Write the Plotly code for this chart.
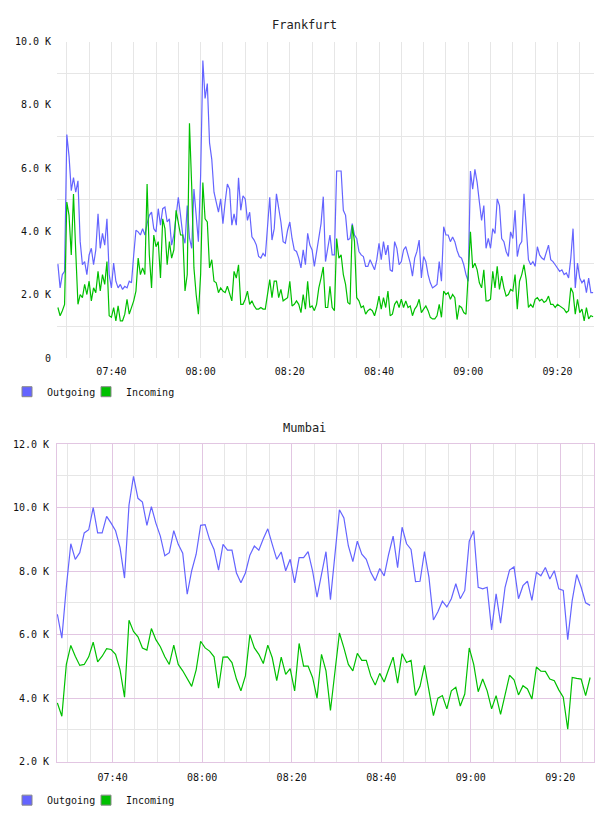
import plotly.graph_objects as go
import pandas as pd

# ---------------- data (values in thousands) ----------------
fra_out_k = [
    2.97, 2.22, 2.64, 2.74, 7.06, 6.38, 5.29, 5.7, 5.24, 5.6,
    3.68, 2.95, 3.05, 2.64, 3.26, 3.47, 2.95, 3.42, 4.56, 3.47,
    3.94, 3.57, 4.4, 2.64, 2.22, 3.0, 2.43, 2.22, 2.33, 2.17,
    2.27, 2.22, 2.43, 2.38, 3.26, 4.04, 3.99, 3.89, 4.09, 3.89,
    4.25, 4.51, 4.61, 4.09, 3.99, 4.72, 4.2, 4.72, 4.77, 4.3,
    4.4, 3.57, 3.89, 4.4, 5.08, 4.51, 3.89, 3.63, 4.82, 3.8,
    3.47, 5.34, 4.51, 3.68, 5.76, 9.4, 8.2, 8.67, 6.8, 6.28,
    5.24, 4.93, 4.61, 5.03, 4.25, 4.93, 5.5, 5.34, 4.2, 4.56,
    4.2, 5.7, 4.67, 5.13, 5.03, 4.35, 4.61, 3.83, 3.73, 3.57,
    3.21, 3.16, 3.31, 3.21, 4.09, 5.08, 3.73, 4.09, 5.19, 4.77,
    4.3, 3.68, 3.63, 4.04, 4.3, 3.78, 3.42, 3.37, 3.16, 2.85,
    3.42, 2.95, 3.94, 3.57, 3.42, 2.9, 3.37, 3.89, 4.25, 5.1,
    3.05, 3.47, 3.89, 3.26, 3.26, 5.91, 5.91, 5.91, 4.67, 4.51,
    3.73, 3.78, 4.25, 3.89, 3.78, 3.37, 3.26, 3.21, 2.9, 2.9,
    3.11, 2.95, 2.79, 3.11, 3.63, 3.11, 3.68, 3.26, 3.57, 2.79,
    2.74, 3.68, 3.47, 2.95, 3.05, 3.42, 3.52, 3.26, 3.0, 2.59,
    3.16, 3.37, 3.73, 2.53, 3.21, 3.05, 2.64, 2.38, 2.22, 2.27,
    2.33, 3.05, 2.43, 4.15, 3.89, 3.89, 3.68, 3.83, 3.68, 3.4,
    3.21, 3.16, 2.95, 2.64, 2.43, 5.91, 5.34, 5.96, 5.55, 4.93,
    4.35, 4.82, 3.47, 3.78, 3.47, 4.09, 3.94, 5.03, 4.82, 3.78,
    3.68, 3.37, 3.21, 3.99, 3.78, 4.67, 3.21, 3.57, 3.68, 5.19,
    4.2, 3.11, 2.95, 3.05, 2.9, 3.52, 3.26, 3.16, 3.11, 3.37,
    3.57, 3.11, 3.05, 2.95, 2.85, 2.74, 2.79, 2.64, 2.69, 2.53,
    3.16, 4.09, 2.22, 3.0, 2.53, 2.38, 2.48, 2.07, 2.53, 2.07,
    2.07,
]
fra_in_k = [
    1.6, 1.34, 1.5, 1.7, 4.93, 4.51, 3.26, 5.18, 3.37, 1.7,
    2.01, 1.91, 2.33, 2.01, 2.43, 1.81, 2.22, 2.07, 2.74, 2.12,
    2.64, 2.33, 3.05, 1.34, 1.29, 1.6, 1.18, 1.65, 1.18, 1.18,
    1.39, 1.86, 1.39, 1.6, 1.81, 2.12, 3.16, 2.64, 2.85, 2.64,
    5.5, 3.26, 2.22, 3.89, 3.52, 3.68, 2.53, 4.4, 4.09, 2.95,
    3.68, 3.16, 3.42, 4.67, 4.25, 3.89, 3.89, 2.12, 2.64, 7.42,
    5.44, 2.85, 2.01, 1.39, 2.64, 5.55, 4.4, 4.3, 2.85, 3.11,
    2.43, 2.38, 2.07, 2.22, 2.12, 2.07, 2.27, 2.01, 1.81, 2.74,
    2.53, 2.95, 1.7, 1.7, 1.86, 2.12, 1.7, 1.81, 1.65, 1.55,
    1.55, 1.6, 1.55, 1.55, 2.01, 2.48, 1.91, 2.43, 2.43, 1.91,
    2.17, 1.81, 1.86, 1.91, 2.43, 1.65, 1.7, 1.81, 1.7, 1.44,
    2.01, 1.55, 2.43, 1.6, 1.65, 1.5, 1.7, 2.22, 2.53, 2.88,
    1.6, 1.6, 2.27, 1.6, 1.5, 3.78, 3.16, 3.26, 2.64, 2.33,
    1.76, 1.7, 4.2, 3.68, 1.91, 1.81, 1.6, 1.65, 1.39, 1.5,
    1.55, 1.5, 1.34, 1.6, 1.96, 1.55, 1.91, 1.6, 2.12, 1.34,
    1.39, 1.7, 1.81, 1.6, 1.86, 1.6, 1.81, 1.6, 1.65, 1.34,
    1.55, 1.65, 1.86, 1.44, 1.55, 1.65, 1.5, 1.29, 1.24, 1.24,
    1.34, 1.7, 1.29, 2.12, 2.01, 2.07, 1.86, 2.01, 1.91, 1.22,
    1.65, 1.6, 1.44, 1.39, 2.64, 3.99, 2.85, 3.0, 2.79, 2.38,
    2.22, 2.79, 1.81, 1.81, 1.86, 2.74, 2.22, 2.9, 2.17, 2.59,
    2.22, 1.96, 2.01, 2.17, 2.12, 2.64, 1.55, 2.43, 2.64, 2.95,
    2.48, 1.6, 1.7, 1.6, 1.86, 1.91, 1.81, 1.86, 1.76, 1.81,
    1.96, 1.7, 1.7, 1.6, 1.7, 1.65, 1.6, 1.55, 1.44, 1.5,
    2.22, 2.07, 1.39, 1.86, 1.44, 1.55, 1.18, 1.6, 1.24, 1.34,
    1.31,
]
mum_out_k = [
    6.64, 5.89, 7.5, 8.86, 8.37, 8.58, 9.2, 9.3, 10.0, 9.2,
    9.2, 9.72, 9.51, 9.27, 8.74, 7.78, 10.08, 10.98, 10.29, 10.17,
    9.44, 10.03, 9.51, 9.1, 8.48, 8.58, 9.27, 8.84, 8.56, 7.27,
    8.01, 8.53, 9.44, 9.46, 8.99, 8.68, 8.03, 8.84, 8.66, 8.66,
    7.94, 7.63, 7.94, 8.5, 8.79, 8.66, 9.02, 9.33, 8.84, 8.37,
    8.6, 8.01, 8.37, 7.63, 8.42, 8.42, 8.61, 8.01, 7.18, 7.9,
    8.61, 7.1, 8.53, 9.93, 9.67, 8.79, 8.3, 8.94, 8.53, 8.37,
    7.96, 7.7, 8.08, 7.85, 8.53, 9.1, 8.11, 9.38, 8.86, 8.68,
    7.67, 7.68, 8.61, 7.8, 6.46, 6.72, 7.05, 6.87, 7.13, 7.6,
    7.13, 7.39, 8.94, 9.27, 7.49, 7.44, 7.49, 6.15, 7.28, 6.36,
    7.49, 8.03, 8.13, 7.13, 7.54, 7.68, 7.08, 7.96, 7.85, 8.11,
    7.75, 8.01, 7.44, 7.39, 5.84, 7.08, 7.89, 7.49, 7.0, 6.92,
]
mum_in_k = [
    3.85, 3.43, 5.06, 5.66, 5.32, 5.03, 5.06, 5.3, 5.76, 5.14,
    5.32, 5.56, 5.53, 5.38, 4.89, 4.03, 6.45, 6.1, 5.93, 5.58,
    5.51, 6.19, 5.84, 5.62, 5.3, 5.06, 5.67, 5.06, 4.86, 4.6,
    4.37, 4.89, 5.79, 5.58, 5.48, 5.3, 4.31, 5.29, 5.3, 5.12,
    4.6, 4.23, 4.7, 6.0, 5.58, 5.38, 5.09, 5.67, 5.27, 4.55,
    5.29, 4.75, 4.93, 4.23, 5.72, 5.01, 5.01, 4.65, 4.0, 5.38,
    4.86, 3.61, 4.86, 6.05, 5.58, 5.06, 4.86, 5.41, 5.19, 5.19,
    4.7, 4.41, 4.78, 4.51, 4.91, 5.29, 4.47, 5.4, 5.12, 5.19,
    4.08, 4.37, 5.03, 4.23, 3.45, 4.0, 4.08, 3.66, 4.23, 4.34,
    3.75, 4.13, 5.58, 5.06, 4.2, 4.6, 4.23, 3.66, 4.08, 3.49,
    4.13, 4.72, 4.58, 4.1, 4.39, 4.29, 3.97, 4.98, 4.85, 4.84,
    4.6, 4.55, 4.26, 4.03, 3.02, 4.65, 4.62, 4.6, 4.08, 4.65,
]

fra_ticks = [0, 2000, 4000, 6000, 8000, 10000]
fra_ticktext = ["0", "2.0 K", "4.0 K", "6.0 K", "8.0 K", "10.0 K"]
mum_ticks = [2000, 4000, 6000, 8000, 10000, 12000]
mum_ticktext = ["2.0 K", "4.0 K", "6.0 K", "8.0 K", "10.0 K", "12.0 K"]
series_names = ["Outgoing", "Incoming"]

fra_time = pd.date_range("2024-01-01 07:28:00", periods=len(fra_out_k), freq="30s")
mum_time = pd.date_range("2024-01-01 07:27:40", periods=len(mum_out_k), freq="60s")

# ---------------- styles ----------------
OUT_C = "#6464ff"
IN_C = "#00c000"
GRID = "#e6e6e6"
PINK = "#e2c6e2"
FONT = "DejaVu Sans Mono"
W, H = 608, 816


def py(px):
    return 1 - px / H


fig = go.Figure()
fig.add_trace(go.Scatter(x=fra_time, y=[v * 1000 for v in fra_out_k], mode="lines",
                         line=dict(color=OUT_C, width=1.2), xaxis="x", yaxis="y",
                         showlegend=False, name=series_names[0]))
fig.add_trace(go.Scatter(x=fra_time, y=[v * 1000 for v in fra_in_k], mode="lines",
                         line=dict(color=IN_C, width=1.2), xaxis="x", yaxis="y",
                         showlegend=False, name=series_names[1]))
fig.add_trace(go.Scatter(x=mum_time, y=[v * 1000 for v in mum_out_k], mode="lines",
                         line=dict(color=OUT_C, width=1.2), xaxis="x2", yaxis="y2",
                         showlegend=False, name=series_names[0]))
fig.add_trace(go.Scatter(x=mum_time, y=[v * 1000 for v in mum_in_k], mode="lines",
                         line=dict(color=IN_C, width=1.2), xaxis="x2", yaxis="y2",
                         showlegend=False, name=series_names[1]))

# legend entries (square swatches) + an invisible spacer so nothing gets clipped
for leg, xa, ya in (("legend", "x", "y"), ("legend2", "x2", "y2")):
    for name, col in zip(series_names, (OUT_C, IN_C)):
        fig.add_trace(go.Scatter(x=[None], y=[None], mode="markers", name=name,
                                 marker=dict(symbol="square", size=10, color=col,
                                             line=dict(color="#888", width=1)),
                                 xaxis=xa, yaxis=ya, legend=leg, showlegend=True))
    fig.add_trace(go.Scatter(x=[None], y=[None], mode="markers", name=" ",
                             marker=dict(symbol="square", size=10,
                                         color="rgba(0,0,0,0)",
                                         line=dict(color="rgba(0,0,0,0)", width=0)),
                             xaxis=xa, yaxis=ya, legend=leg, showlegend=True))

xdom = [57 / W, 594 / W]
tickfont = dict(family=FONT, size=10, color="#111")
legfont = dict(family=FONT, size=10, color="#111")

fig.update_layout(
    width=W, height=H, autosize=False,
    margin=dict(l=0, r=0, t=0, b=0),
    paper_bgcolor="white", plot_bgcolor="white",
    font=dict(family=FONT, size=10, color="#111"),
    xaxis=dict(domain=xdom, anchor="y", type="date",
               range=["2024-01-01 07:27:48", "2024-01-01 09:28:12"],
               tick0="2024-01-01 07:40:00", dtick=20 * 60 * 1000, tickformat="%H:%M",
               showgrid=True, gridcolor=GRID, gridwidth=1,
               minor=dict(dtick=5 * 60 * 1000, tick0="2024-01-01 07:40:00",
                          showgrid=True, gridcolor=GRID, gridwidth=1),
               ticks="", showline=False, zeroline=False, tickfont=tickfont,
               ticklabelstandoff=6),
    yaxis=dict(domain=[py(358), py(37)], anchor="x", range=[0, 10000],
               tickmode="array", tickvals=fra_ticks, ticktext=fra_ticktext,
               showgrid=False,
               minor=dict(tickmode="array", tickvals=[1000, 3000, 5000, 7000, 9000],
                          showgrid=True, gridcolor=GRID, gridwidth=1),
               ticks="", showline=False, zeroline=False, tickfont=tickfont,
               ticklabelstandoff=5),
    xaxis2=dict(domain=xdom, anchor="y2", type="date",
                range=["2024-01-01 07:27:35", "2024-01-01 09:27:32"],
                tick0="2024-01-01 07:40:00", dtick=20 * 60 * 1000, tickformat="%H:%M",
                showgrid=True, gridcolor=PINK, gridwidth=1,
                minor=dict(dtick=5 * 60 * 1000, tick0="2024-01-01 07:40:00",
                           showgrid=True, gridcolor=GRID, gridwidth=1),
                ticks="", showline=True, mirror=True, linecolor=PINK, linewidth=1,
                zeroline=False, tickfont=tickfont, ticklabelstandoff=6),
    yaxis2=dict(domain=[py(767), py(445)], anchor="x2", range=[2000, 12000],
                tickmode="array", tickvals=mum_ticks, ticktext=mum_ticktext,
                showgrid=True, gridcolor=PINK, gridwidth=1,
                minor=dict(tickmode="array", tickvals=[3000, 5000, 7000, 9000, 11000],
                           showgrid=True, gridcolor=GRID, gridwidth=1),
                ticks="", showline=True, mirror=True, linecolor=PINK, linewidth=1,
                zeroline=False, tickfont=tickfont, ticklabelstandoff=5),
    legend=dict(x=7 / W, y=py(392), xanchor="left", yanchor="middle",
                orientation="h", font=legfont, bgcolor="rgba(0,0,0,0)",
                itemwidth=30, itemclick=False, tracegroupgap=0,
                entrywidth=34, entrywidthmode="pixels"),
    legend2=dict(x=7 / W, y=py(806), xanchor="left", yanchor="middle",
                 orientation="h", font=legfont, bgcolor="rgba(0,0,0,0)",
                 itemwidth=30, itemclick=False, tracegroupgap=0,
                 entrywidth=34, entrywidthmode="pixels"),
    annotations=[
        dict(text="Frankfurt", x=0.5, y=py(20), xref="paper", yref="paper",
             showarrow=False, xanchor="center", yanchor="middle",
             font=dict(family=FONT, size=12, color="#222")),
        dict(text="Mumbai", x=0.5, y=py(429), xref="paper", yref="paper",
             showarrow=False, xanchor="center", yanchor="middle",
             font=dict(family=FONT, size=12, color="#222")),
    ],
    hovermode=False,
)

fig.write_html("out.html")
